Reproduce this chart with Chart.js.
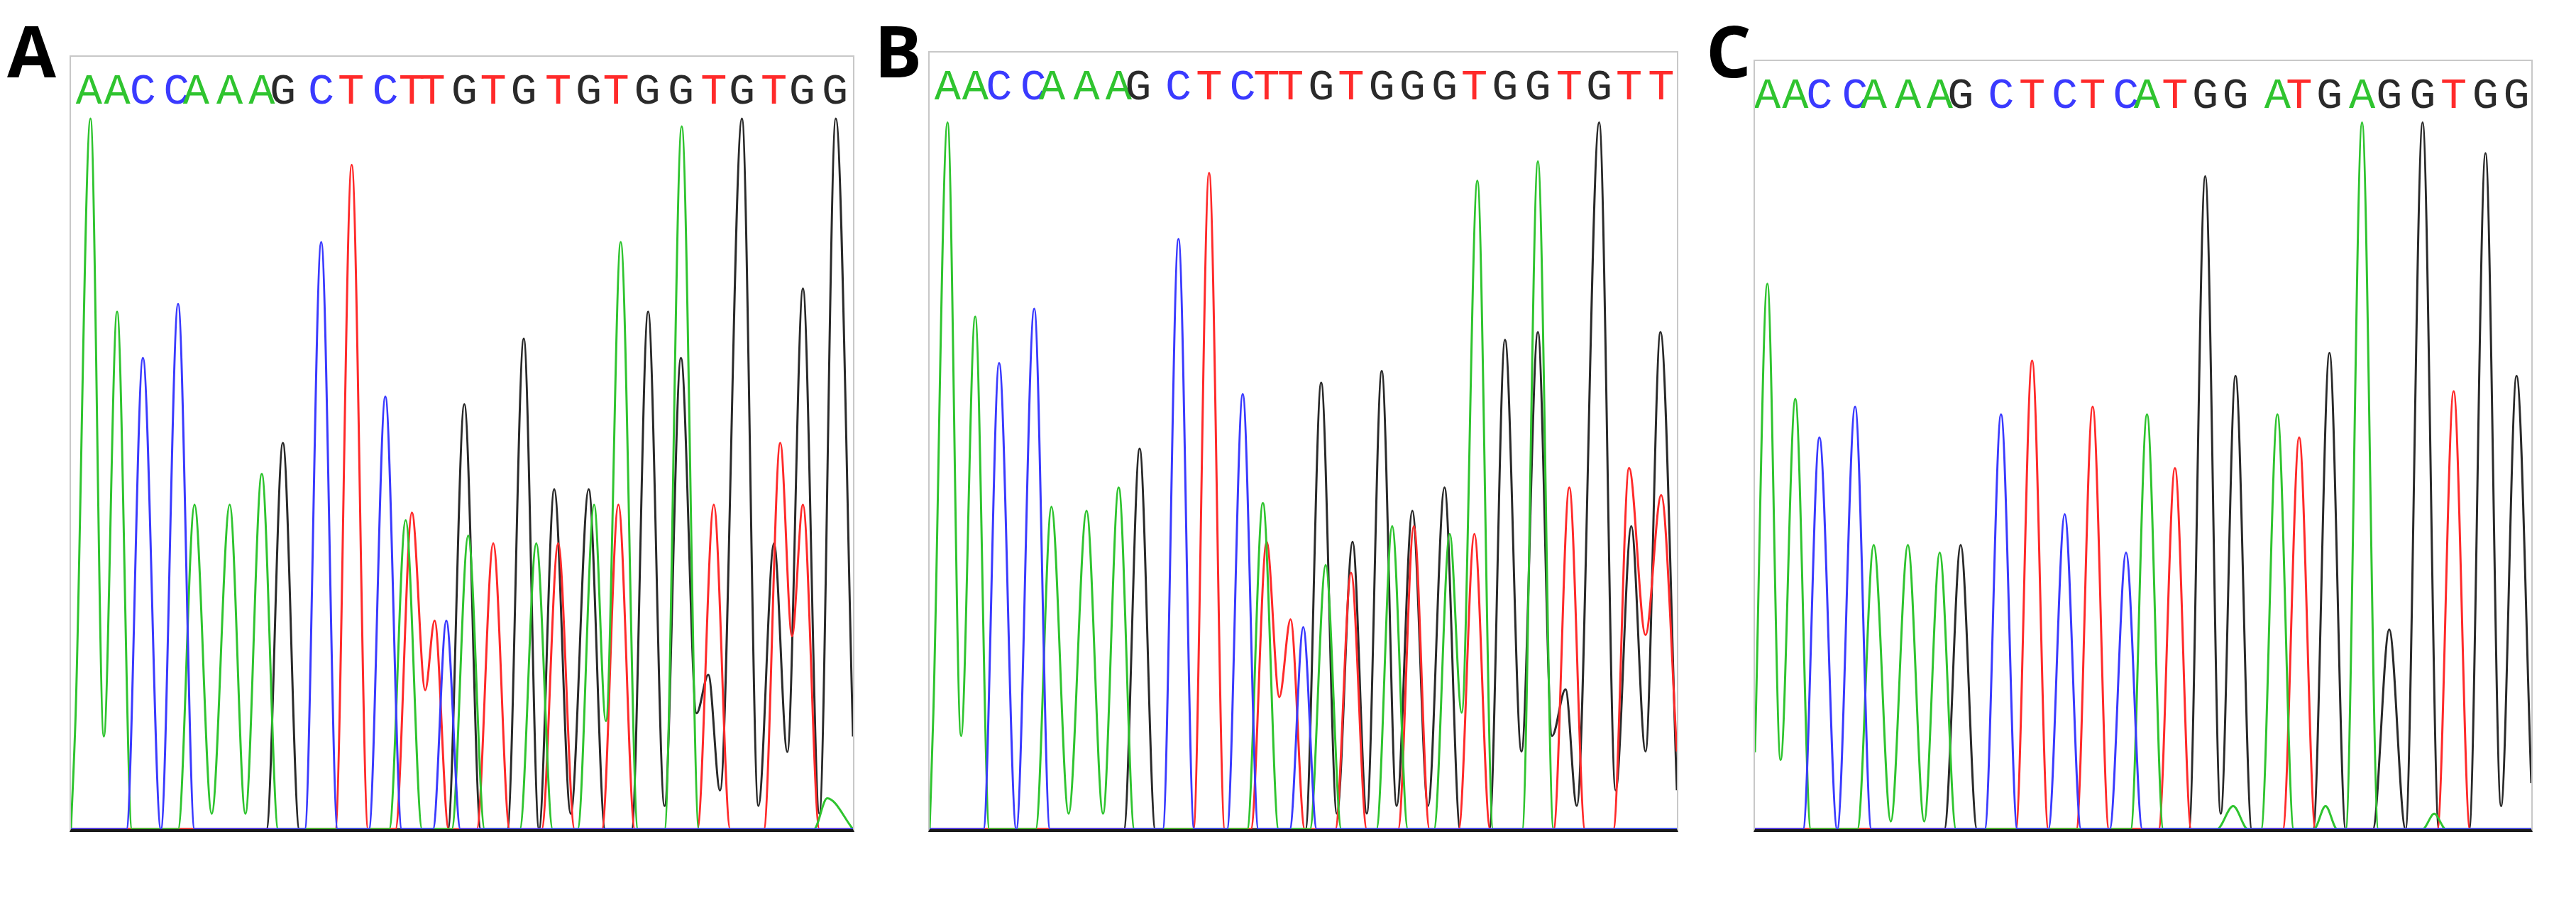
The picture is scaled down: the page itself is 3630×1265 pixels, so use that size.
<!DOCTYPE html>
<html>
<head>
<meta charset="utf-8">
<script src="https://cdn.jsdelivr.net/npm/chart.js@4"></script>
<style>
  body { margin: 0; width: 3630px; height: 1265px; background: #fff; position: relative; overflow: hidden; }
  .panel { position: absolute; border: 2px solid #c8c8c8; border-bottom: 4px solid #1a1a1a; box-sizing: border-box; }
  .tag { position: absolute; font-family: "Open Sans", sans-serif; font-weight: 700; font-size: 100px; line-height: 1; color: #000; }
</style>
</head>
<body>
<div class="tag" style="left:10px;top:20px">A</div>
<div class="tag" style="left:1232px;top:20px">B</div>
<div class="tag" style="left:2404px;top:20px">C</div>
<div class="panel" style="left:98px;top:78px;width:1106px;height:1094px"><canvas id="chartA"></canvas></div>
<div class="panel" style="left:1308px;top:72px;width:1057px;height:1100px"><canvas id="chartB"></canvas></div>
<div class="panel" style="left:2471px;top:84px;width:1098px;height:1088px"><canvas id="chartC"></canvas></div>
<script>
// trace vertices [x (0-100 across panel), signal (0-100)]
var greenA = [[0,0],[0.6,15],[2.5,92],[4.2,12],[5.9,67],[7.8,0],[13.7,0],[15.8,42],[18,2],[20.3,42],[22.3,2],[24.4,46],[26.5,0],[40.7,0],[42.8,40],[44.9,0],[48.7,0],[50.8,38],[52.9,0],[57.4,0],[59.5,37],[61.6,0],[64.8,0],[66.9,42],[68.4,14],[70.3,76],[72.5,0],[75.9,0],[78.1,91],[80.3,0],[95,0],[96.7,4],[100,0]];
var blueA = [[0,0],[7.1,0],[9.2,61],[11.5,0],[13.7,68],[15.8,0],[29.9,0],[32,76],[34.1,0],[38.1,0],[40.2,56],[42.3,0],[46.3,0],[48,27],[49.8,0],[100,0]];
var blackA = [[0,0],[25,0],[27.1,50],[29.2,0],[48.2,0],[50.3,55],[52.4,0],[55.8,0],[57.9,63.5],[59.85,0],[61.8,44],[63.9,2],[66.2,44],[68.3,0],[71.7,0],[73.8,67],[75.9,3],[78,61],[80,15],[81.5,20],[83,5],[85.8,92],[87.9,3],[89.9,37],[91.6,10],[93.6,70],[95.7,2],[97.8,92],[100,12]];
var redA = [[0,0],[33.8,0],[35.9,86],[38,0],[41.5,0],[43.6,41],[45.3,18],[46.5,27],[48.3,0],[51.9,0],[54,37],[56.1,0],[60.2,0],[62.3,37],[64.4,0],[67.9,0],[70,42],[72.1,0],[80.1,0],[82.2,42],[84.3,0],[88.6,0],[90.7,50],[92.2,25],[93.6,42],[95.7,0],[100,0]];

var greenB = [[0,0],[0.5,15],[2.4,91],[4.2,12],[6.1,66],[8,0],[14.2,0],[16.3,41.5],[18.6,2],[21,41],[23.2,2],[25.3,44],[27.4,0],[42.5,0],[44.6,42],[46.7,0],[50.9,0],[53,34],[55.1,0],[59.8,0],[61.9,39],[64,0],[67.5,0],[69.6,38],[71.2,15],[73.3,83.5],[75.4,0],[79.3,0],[81.4,86],[83.5,0],[100,0]];
var blueB = [[0,0],[7.2,0],[9.3,60],[11.6,0],[14,67],[16.1,0],[31.2,0],[33.3,76],[35.4,0],[39.8,0],[41.9,56],[44,0],[48.2,0],[50,26],[51.8,0],[100,0]];
var blackB = [[0,0],[26,0],[28.1,49],[30.2,0],[50.3,0],[52.4,57.5],[54.5,2],[56.6,37],[58.5,2],[60.5,59],[62.5,3],[64.6,41],[66.7,3],[68.9,44],[71,0],[74.9,0],[77,63],[79.2,10],[81.4,64],[83.3,12],[85.1,18],[86.6,3],[89.6,91],[91.8,5],[93.9,39],[95.8,10],[97.8,64],[100,5]];
var redB = [[0,0],[35.3,0],[37.4,84.5],[39.5,0],[43,0],[45.1,37],[46.8,17],[48.3,27],[50.2,0],[54.3,0],[56.4,33],[58.5,0],[62.7,0],[64.8,39],[66.9,0],[70.8,0],[72.9,38],[75,0],[83.5,0],[85.6,44],[87.7,0],[91.5,0],[93.6,46.5],[95.8,25],[97.9,43],[100,10]];

var greenC = [[0,10],[1.6,71],[3.3,9],[5.2,56],[7.2,0],[13.2,0],[15.3,37],[17.5,1],[19.7,37],[21.8,1],[23.8,36],[25.9,0],[48.4,0],[50.5,54],[52.6,0],[59.5,0],[61.6,3],[63.5,0],[65.2,0],[67.3,54],[69.4,0],[72,0],[73.5,3],[75,0],[76.1,0],[78.2,92],[80.3,0],[86,0],[87.5,2],[89,0],[100,0]];
var blueC = [[0,0],[6.2,0],[8.3,51],[10.6,0],[12.9,55],[15,0],[29.6,0],[31.7,54],[33.8,0],[37.8,0],[39.9,41],[42,0],[45.7,0],[47.8,36],[49.9,0],[100,0]];
var blackC = [[0,0],[24.4,0],[26.5,37],[28.6,0],[55.9,0],[58,85],[60,2],[61.9,59],[64,0],[71.9,0],[74,62],[76.1,0],[79.6,0],[81.7,26],[83.8,0],[86,92],[88.1,0],[92,0],[94.1,88],[96.1,3],[98.1,59],[100,6]];
var redC = [[0,0],[33.6,0],[35.7,61],[37.8,0],[41.4,0],[43.5,55],[45.6,0],[52,0],[54.1,47],[56.2,0],[68,0],[70.1,51],[72.2,0],[87.9,0],[90,57],[92.1,0],[100,0]];

// base calls and their positions
var seqA = "AACCAAAGCTCTTGTGTGTGGTGTGG";
var posA = [2.3,5.9,9.2,13.5,16,20.3,24.4,27.1,32,35.8,40.2,43.6,46.2,50.3,54,57.9,62.3,66.2,69.7,73.7,78,82.2,85.8,89.9,93.5,97.7];
var seqB = "AACCAAAGCTCTTGTGGGTGGTGTT";
var posB = [2.4,6.1,9.3,13.9,16.4,21,25.3,27.9,33.3,37.4,41.9,45.1,48.3,52.4,56.4,60.5,64.6,68.9,72.9,77,81.4,85.6,89.6,93.6,97.9];
var seqC = "AACCAAAGCTCTCATGGATGAGGTGG";
var posC = [1.6,5.2,8.3,12.9,15.3,19.7,23.8,26.5,31.7,35.7,39.9,43.5,47.8,50.5,54.1,58,61.9,67.3,70.1,74,78.2,81.7,86,90,94.1,98.1];

var baseColors = { A: '#2fc42f', C: '#3a3aff', G: '#2a2a2a', T: '#ff2a2a' };

function pts(arr) { return arr.map(function (p) { return { x: p[0], y: p[1] }; }); }

var baseCalls = {
    id: 'baseCalls',
    afterDraw: function (chart, args, opts) {
        var c = chart.ctx, xs = chart.scales.x, top = chart.chartArea.top;
        c.save();
        c.font = '62px "Liberation Mono", "DejaVu Sans Mono", monospace';
        c.textAlign = 'center';
        c.textBaseline = 'alphabetic';
        for (var i = 0; i < opts.seq.length; i++) {
            var b = opts.seq[i];
            c.fillStyle = baseColors[b];
            c.fillText(b, xs.getPixelForValue(opts.pos[i]), top + 66);
        }
        c.restore();
    }
};

function trace(id, g, b, k, r, seq, pos) {
    var mk = function (data, col) {
        return { data: pts(data), borderColor: col, borderWidth: 3, pointRadius: 0, fill: false, cubicInterpolationMode: 'monotone' };
    };
    return new Chart(document.getElementById(id).getContext('2d'), {
        type: 'line',
        data: { datasets: [mk(b, baseColors.C), mk(g, baseColors.A), mk(r, baseColors.T), mk(k, baseColors.G)] },
        options: {
            responsive: true,
            maintainAspectRatio: false,
            animation: false,
            devicePixelRatio: 1,
            layout: { padding: 0 },
            plugins: { legend: { display: false }, tooltip: { enabled: false }, baseCalls: { seq: seq, pos: pos } },
            scales: {
                x: { type: 'linear', min: 0, max: 100, display: false },
                y: { min: 0, max: 100, display: false }
            }
        },
        plugins: [baseCalls]
    });
}

trace('chartA', greenA, blueA, blackA, redA, seqA, posA);
trace('chartB', greenB, blueB, blackB, redB, seqB, posB);
trace('chartC', greenC, blueC, blackC, redC, seqC, posC);
</script>
</body>
</html>
